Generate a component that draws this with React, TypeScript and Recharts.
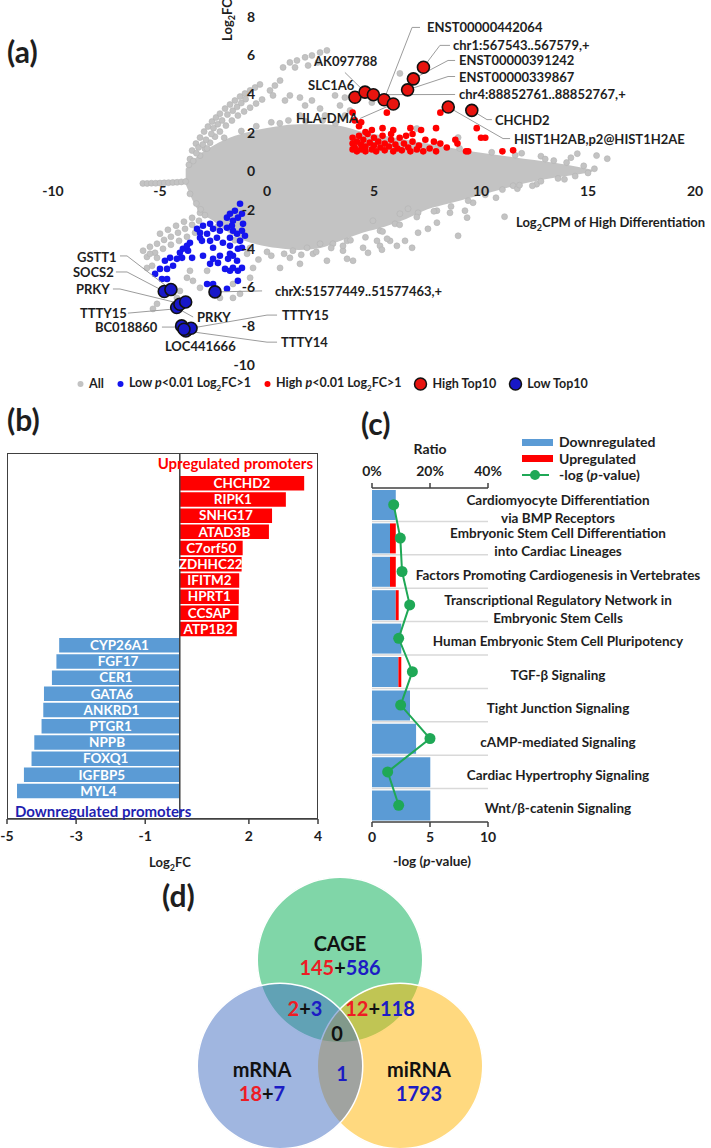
import React from 'react';
import {
  ComposedChart, Area, Scatter, XAxis, YAxis, ReferenceLine,
  BarChart, Bar, Cell, LabelList, Line, PieChart, Pie,
} from 'recharts';

const FONT = 'Lato, "Open Sans", "DejaVu Sans", sans-serif';
const INK = '#1e1e1e';
const RED = '#ff0000';
const BLUE = '#1414ee';
const NAVY = '#1f1fb0';
const GRAY = '#c3c3c3';

// ---------- (a) MA plot ----------
const maTicksX = [-10, -5, 0, 5, 10, 15, 20];
const maTicksY = [-10, -8, -6, -4, -2, 0, 2, 4, 6, 8];

// dense core of the "All" cloud (log2CPM, lower / upper log2FC)
const cloudX = [-3.8, -3.3, -2.5, -1.5, -0.5, 0.5, 1.5, 2.5, 3.5, 4.5, 5.5, 6.5, 7.5, 8.5, 9.5, 10.5, 11.5, 12.5, 13.5, 14.5, 15.2];
const cloudLow = [-0.7, -1.9, -2.6, -3.4, -3.8, -4.0, -4.1, -4.0, -3.6, -3.2, -2.9, -2.5, -2.0, -1.7, -1.4, -1.1, -0.8, -0.55, -0.35, -0.2, -0.05];
const cloudHigh = [0.1, 0.7, 1.3, 1.8, 2.1, 2.3, 2.4, 2.4, 2.3, 2.0, 1.8, 1.6, 1.4, 1.2, 1.0, 0.85, 0.7, 0.55, 0.4, 0.2, 0.05];

// "All" points outside the core
const allPoints = [
  [-3.5, 1.04], [-3.32, 1.4], [-3.13, 1.71], [-2.94, 2.02], [-2.76, 2.28], [-2.57, 2.54], [-2.38, 2.75], [-2.2, 2.95],
  [-1.96, 3.21], [-1.73, 3.42], [-1.5, 3.63], [-1.26, 3.83], [-1.03, 3.99], [-0.79, 4.15], [-0.56, 4.3], [-0.33, 4.46],
  [-3.13, 0.78], [-2.9, 1.14], [-2.66, 1.45], [-2.43, 1.76], [-2.2, 2.02], [-1.92, 2.33], [-1.64, 2.59], [-1.36, 2.85],
  [-1.07, 3.06], [-0.79, 3.26], [-0.51, 3.47], [-0.23, 3.68],
  [-3.65, 0.3], [-3.6, 0.6], [-3.45, 0.5], [-3.3, 0.9], [-3.2, 1.2], [-3.0, 1.35], [-2.85, 1.6], [-2.6, 1.9],
  [-2.5, 2.2], [-2.3, 2.4], [-2.1, 2.6], [-1.85, 2.9], [-1.6, 3.1], [-1.4, 3.3], [-1.2, 3.5], [-1.0, 3.7],
  [0.14, 4.15], [0.37, 4.4], [0.28, 3.89], [0.61, 4.66], [0.75, 5.34], [1.07, 5.6], [1.4, 5.7], [1.78, 5.86],
  [2.1, 5.96], [2.48, 6.11], [2.8, 6.22], [1.31, 5.34], [1.92, 5.44], [2.38, 5.6], [0.84, 3.63], [1.07, 3.89],
  [1.54, 3.78], [1.78, 3.37], [2.1, 3.63], [2.48, 3.21], [3.18, 3.89], [3.41, 3.37], [1.54, 2.85], [2.71, 2.85],
  [3.64, 2.85], [3.88, 3.11], [3.64, 3.78], [4.9, 3.52], [6.21, 5.03], [7.0, 2.18], [8.93, 1.71], [13.4, 0.52],
  [14.2, 0.67], [14.5, 0.88], [15.4, 0.78], [15.9, 0.62], [12.8, 0.75], [11.9, 0.9], [13.9, -0.45], [12.6, -0.7],
  [-5.8, -0.66], [-5.6, -0.66], [-5.4, -0.65], [-5.2, -0.65], [-5.0, -0.64], [-4.8, -0.63], [-4.6, -0.62],
  [-4.4, -0.61], [-4.2, -0.6], [-4.0, -0.58], [-3.8, -0.56],
  [-5.79, -4.14], [-5.47, -3.94], [-5.14, -3.78], [-4.81, -3.58], [-4.49, -3.42], [-4.16, -3.21], [-3.83, -3.01],
  [-3.5, -2.8], [-3.18, -2.59], [-5.61, -4.46], [-5.23, -4.25], [-4.86, -4.04], [-4.49, -3.83], [-4.11, -3.63],
  [-3.74, -3.42], [-3.36, -3.21], [-5.0, -3.26], [-4.63, -3.06], [-4.25, -2.85], [-3.88, -2.64], [-3.5, -2.44],
  [-3.13, -2.18], [-3.3, -1.7], [-3.1, -2.0], [-2.9, -2.3],
  [0.61, -5.03], [1.07, -4.51], [1.54, -4.82], [2.15, -4.3], [2.8, -4.66], [3.08, -3.78], [3.55, -4.14], [4.02, -4.66],
  [3.74, -3.63], [1.87, -3.99], [2.48, -3.78], [1.21, -4.14], [-1.59, -6.58], [-2.2, -6.58], [-3.13, -6.06],
  [-3.46, -5.7], [-3.74, -5.54], [-4.07, -6.22], [-4.21, -6.58], [-5.33, -7.15], [-5.14, -6.89], [-3.6, -5.18],
  [-2.8, -5.18], [-0.93, -4.3], [-0.65, -5.03], [-0.79, -5.54], [-1.26, -6.37], [-1.59, -5.86], [-5.47, -4.3],
  [-5.14, -4.51], [-5.61, -5.03], [-5.37, -4.92], [-0.4, -4.6], [0.2, -4.4],
  [11.1, -2.38], [8.93, -3.37], [9.35, -2.43], [9.63, -1.66], [9.25, -2.07], [8.55, -2.18], [7.94, -2.69], [7.52, -3.01],
  [7.06, -3.21], [6.78, -3.99], [6.45, -3.63], [6.07, -3.89], [5.75, -3.63], [5.28, -3.89], [5.14, -3.63], [4.72, -4.25],
  [4.49, -3.99], [3.74, -4.56], [3.55, -3.89], [5.37, -4.09], [5.61, -3.52], [10.7, -1.4], [11.5, -0.78], [11.7, -0.93],
  [12.4, -0.78], [10.1, -1.04], [7.94, -2.07], [7.06, -2.18], [6.21, -2.23], [6.59, -1.97], [5.98, -2.75], [5.28, -3.11],
  [4.95, -2.59],
  [-0.5, 2.3], [0.2, 2.5], [1.0, 2.6], [1.8, 2.55], [2.6, 2.6], [3.2, 2.45], [0.6, 2.45], [-1.2, 2.05], [-2.0, 1.7],
  [-2.8, 1.15], [0.0, -4.2], [0.8, -4.3], [1.6, -4.35], [2.3, -4.2], [3.0, -4.0], [3.9, -3.6], [4.6, -3.45], [5.4, -3.15],
  [6.2, -2.8], [7.0, -2.4], [7.8, -2.1], [8.6, -1.85], [9.4, -1.55], [10.2, -1.25], [11.0, -0.98], [11.8, -0.75],
  [12.8, -0.55], [13.6, -0.4], [14.4, -0.28], [15.0, -0.12], [-0.8, -4.0], [-1.5, -3.6], [8.0, 1.35], [9.0, 1.15],
  [10.5, 0.95], [11.6, 0.8], [13.0, 0.6], [14.0, 0.42], [14.8, 0.25], [15.3, 0.1], [-2.3, -2.9], [-3.6, -1.2],
];

// High p<0.01 Log2FC>1
const highPoints = [
  [4.0, 1.1], [4.0, 1.4], [4.0, 1.7], [4.1, 1.2], [4.2, 1.0], [4.2, 1.5], [4.3, 1.8], [4.4, 1.1], [4.4, 1.35], [4.5, 1.6],
  [4.6, 1.0], [4.6, 1.25], [4.7, 1.9], [4.8, 1.45], [4.9, 1.1], [5.0, 1.3], [5.0, 1.7], [5.1, 1.0], [5.2, 1.5], [5.3, 1.2],
  [5.4, 1.8], [5.5, 1.05], [5.5, 1.4], [5.7, 1.25], [5.8, 1.6], [5.9, 1.0], [6.0, 1.35], [6.1, 1.15], [6.2, 1.7], [6.3, 1.05],
  [6.4, 1.4], [6.6, 1.2], [6.7, 1.0], [6.8, 1.5], [7.0, 1.1], [7.1, 1.3], [7.3, 1.0], [7.4, 1.6], [7.6, 1.15], [4.3, 2.3],
  [4.1, 2.6], [4.4, 2.5], [4.9, 2.1], [5.4, 2.2], [5.6, 3.0], [5.9, 2.1], [6.7, 2.2], [6.8, 1.9], [7.2, 2.1], [7.9, 2.2],
  [8.1, 3.0], [7.8, 1.5], [8.1, 1.4], [8.8, 1.6], [8.9, 1.4], [9.8, 2.2], [10.0, 1.7], [10.2, 1.7], [9.3, 1.0], [9.4, 1.0],
  [11.0, 1.0], [11.5, 1.05], [4.0, 3.0], [8.4, 1.2], [7.9, 1.0], [6.5, 1.8], [5.8, 1.9], [4.6, 2.0],
];

// Low p<0.01 Log2FC>1
const lowPoints = [
  [-1.26, -1.71], [-1.87, -2.43], [-1.59, -2.59], [-1.36, -2.43], [-1.12, -2.75], [-1.17, -3.11], [-1.59, -3.11],
  [-1.73, -3.47], [-1.4, -3.26], [-1.03, -3.37], [-1.26, -3.63], [-2.2, -3.11], [-2.52, -3.01], [-2.8, -3.26],
  [-3.13, -3.21], [-3.04, -3.63], [-2.66, -3.63], [-2.34, -3.47], [-2.06, -3.73], [-1.73, -3.89], [-1.36, -4.04],
  [-1.17, -3.99], [-1.59, -4.4], [-1.82, -4.56], [-1.4, -4.66], [-1.59, -5.03], [-1.73, -5.18], [-1.36, -5.7],
  [-1.17, -5.03], [-2.2, -4.4], [-2.52, -4.56], [-2.99, -4.4], [-2.66, -4.82], [-2.29, -4.77], [-1.96, -5.08],
  [-3.6, -3.73], [-3.93, -4.04], [-4.07, -4.25], [-3.69, -4.14], [-3.5, -4.51], [-4.21, -4.56], [-4.53, -4.51],
  [-4.77, -4.66], [-4.39, -4.92], [-5.0, -5.08], [-4.67, -5.08], [-5.23, -5.34], [-4.91, -5.6], [-4.67, -5.6],
  [-3.27, -3.01], [-2.99, -2.85], [-2.66, -2.75], [-2.2, -2.75], [-1.87, -2.95], [-1.64, -2.85], [-2.52, -3.99],
  [-1.73, -4.3], [-2.8, -5.86], [-2.52, -5.86], [-1.87, -6.11], [-1.36, -5.18], [-3.13, -3.47], [-3.74, -3.89],
  [-3.97, -4.51], [-1.73, -2.23], [-1.5, -2.07], [-1.17, -2.23],
];

// Top10 up / down (same order as the names)
const highTop10Names = ['SLC1A6', 'AK097788', 'chr4:88852761..88852767,+', 'ENST00000442064', 'HLA-DMA',
  'ENST00000339867', 'ENST00000391242', 'chr1:567543..567579,+', 'HIST1H2AB,p2@HIST1H2AE', 'CHCHD2'];
const highTop10 = [[4.11, 3.8], [4.58, 4.06], [4.97, 3.93], [5.47, 3.67], [5.9, 3.45], [6.57, 4.18], [6.84, 4.75], [7.31, 5.35], [8.47, 3.29], [9.57, 3.12]];
const lowTop10Names = ['SOCS2', 'GSTT1', 'TTTY15', 'PRKY', 'PRKY', 'BC018860', 'TTTY14', 'TTTY15', 'LOC441666', 'chrX:51577449..51577463,+'];
const lowTop10 = [[-4.8, -6.25], [-4.49, -6.15], [-4.22, -7.08], [-4.07, -6.91], [-3.8, -6.79], [-3.99, -8.03], [-3.79, -8.29], [-3.55, -8.15], [-3.88, -8.2], [-2.43, -6.27]];

// ---------- (b) top promoters ----------
const upGenes = ['CHCHD2', 'RIPK1', 'SNHG17', 'ATAD3B', 'C7orf50', 'ZDHHC22', 'IFITM2', 'HPRT1', 'CCSAP', 'ATP1B2'];
const upFC = [3.6, 3.07, 2.67, 2.58, 1.82, 1.79, 1.72, 1.71, 1.7, 1.65];
const downGenes = ['CYP26A1', 'FGF17', 'CER1', 'GATA6', 'ANKRD1', 'PTGR1', 'NPPB', 'FOXQ1', 'IGFBP5', 'MYL4'];
const downFC = [-3.49, -3.57, -3.7, -3.93, -3.95, -4.0, -4.21, -4.29, -4.51, -4.71];
const fcTicks = [-5, -3, -1, 2, 4];

// ---------- (c) pathways ----------
const pathways = [
  'Cardiomyocyte Differentiation\nvia BMP Receptors',
  'Embryonic Stem Cell Differentiation\ninto Cardiac Lineages',
  'Factors Promoting Cardiogenesis in Vertebrates',
  'Transcriptional Regulatory Network in\nEmbryonic Stem Cells',
  'Human Embryonic Stem Cell Pluripotency',
  'TGF-β Signaling',
  'Tight Junction Signaling',
  'cAMP-mediated Signaling',
  'Cardiac Hypertrophy Signaling',
  'Wnt/β-catenin Signaling',
];
const downRatio = [8.2, 6.2, 6.2, 8.2, 10.1, 9.1, 13.1, 15.2, 20.1, 20.1];
const upRatio = [0, 2.0, 2.0, 1.0, 0, 1.0, 0, 0, 0, 0];
const negLogP = [1.87, 2.44, 2.59, 3.25, 2.3, 3.48, 2.47, 5.0, 1.35, 2.3];
const ratioTicks = [0, 20, 40];
const pTicks = [0, 5, 10];

// ---------- (d) Venn ----------
const vennSets = ['CAGE', 'mRNA', 'miRNA'];
const vennRegions = ['CAGE', 'CAGE∩mRNA', 'CAGE∩miRNA', 'all', 'mRNA', 'mRNA∩miRNA', 'miRNA'];
const vennUp = [145, 2, 12, 0, 18, 0, 0];
const vennDown = [586, 3, 118, 0, 7, 1, 1793];

// ---------- layout ----------
const A_HIGH_SPOTS = [
  [1.92, 4.41], [2.2, 5.65], [8.97, 3.94], [7.48, 7.41], [1.36, 2.7],
  [8.97, 4.87], [8.97, 5.7], [8.69, 6.48], [11.54, 1.66], [10.65, 2.64],
];
const A_LOW_SPOTS = [
  [-9.07, -5.24], [-8.88, -4.46], [-8.74, -7.37], [-8.93, -6.12], [-3.27, -7.57],
  [-8.04, -8.09], [0.65, -8.87], [0.7, -7.47], [-4.77, -9.08], [0.37, -6.22],
];
const A_LEADERS = [
  [[7.15, 7.41], [6.78, 7.41], [5.47, 3.68]],
  [[8.55, 6.48], [8.08, 6.48], [7.31, 5.35]],
  [[8.79, 5.7], [8.46, 5.7], [6.84, 4.75]],
  [[8.79, 4.87], [8.46, 4.87], [6.57, 4.18]],
  [[8.79, 3.94], [4.97, 3.93]],
  [[10.51, 2.64], [10.28, 2.64], [9.57, 3.12]],
  [[11.36, 1.66], [11.03, 1.66], [8.47, 3.29]],
  [[3.64, 5.08], [4.58, 4.06]],
  [[4.35, 2.7], [5.9, 3.45]],
  [[-6.87, -4.41], [-6.54, -4.41], [-4.49, -6.15]],
  [[-7.06, -5.24], [-6.54, -5.24], [-4.8, -6.25]],
  [[-7.2, -6.12], [-6.87, -6.12], [-3.97, -6.9]],
  [[-6.5, -7.37], [-4.3, -7.15]],
  [[-3.45, -7.57], [-3.97, -7.25]],
  [[-4.91, -8.09], [-3.99, -8.09]],
  [[0.47, -7.47], [0, -7.47], [-3.55, -8.15]],
  [[0.47, -8.87], [0, -8.87], [-3.79, -8.29]],
  [[-0.23, -6.22], [-2.3, -6.27]],
];
const A_MARGIN = { top: 16, right: 16, bottom: 36, left: 53 };

const toXY = (arr: number[][]) => arr.map(([x, y]) => ({ x, y }));

const svgText = { fontFamily: FONT, fontWeight: 700 } as const;

const dotShape = (r: number, fill: string, stroke = 'none', sw = 0) => (p: any) =>
  <circle cx={p.cx} cy={p.cy} r={r} fill={fill} stroke={stroke} strokeWidth={sw} />;

const noShape = () => <g />;

function PanelA() {
  const cloud = cloudX.map((x, i) => ({ x, range: [cloudLow[i], cloudHigh[i]] }));
  const xTicks = maTicksX.map((v) => ({ x: v, y: 0, t: String(v) }));
  const yTicks = maTicksY.map((v) => ({ x: 0, y: v, t: String(v) }));
  const labels = [
    ...A_HIGH_SPOTS.map(([x, y], i) => ({ x, y, t: highTop10Names[i] })),
    ...A_LOW_SPOTS.map(([x, y], i) => ({ x, y, t: lowTop10Names[i] })),
  ];
  return (
    <div style={{ position: 'absolute', left: 0, top: 0, width: 711, height: 400 }}>
      {/* axes crossing at the origin, drawn underneath the points */}
      <div style={{ position: 'absolute', left: 0, top: 0 }}>
        <ComposedChart width={711} height={400} margin={A_MARGIN}>
          <XAxis type="number" dataKey="x" domain={[-10, 20]} hide />
          <YAxis type="number" domain={[-10, 8]} hide />
          <ReferenceLine y={0} stroke="#5a5a5a" strokeWidth={2} />
          <ReferenceLine x={0} stroke="#5a5a5a" strokeWidth={2} />
        </ComposedChart>
      </div>
      <div style={{ position: 'absolute', left: 0, top: 0 }}>
        <ComposedChart width={711} height={400} data={cloud} margin={A_MARGIN}>
          <XAxis type="number" dataKey="x" domain={[-10, 20]} hide />
          <YAxis type="number" domain={[-10, 8]} hide />
          <Area dataKey="range" type="monotone" stroke="none" fill={GRAY} fillOpacity={1} dot={false} activeDot={false} isAnimationActive={false} />
          <Scatter data={toXY(allPoints)} dataKey="y" shape={dotShape(3, GRAY, '#b4b4b4', 0.6)} isAnimationActive={false} />
          <Scatter data={toXY(highPoints)} dataKey="y" shape={dotShape(3.3, RED)} isAnimationActive={false} />
          <Scatter data={toXY(lowPoints)} dataKey="y" shape={dotShape(3.3, BLUE)} isAnimationActive={false} />
          {A_LEADERS.map((pts, i) => (
            <Scatter key={i} data={toXY(pts)} dataKey="y" line={{ stroke: '#9c9c9c', strokeWidth: 1 }} shape={noShape} isAnimationActive={false} />
          ))}
          <Scatter data={toXY(highTop10)} dataKey="y" shape={dotShape(6, '#e8140f', '#111', 1.6)} isAnimationActive={false} />
          <Scatter data={toXY(lowTop10)} dataKey="y" shape={dotShape(6, '#1818c8', '#111', 1.6)} isAnimationActive={false} />
          <Scatter data={xTicks} dataKey="y" isAnimationActive={false}
            shape={(p: any) => <text x={p.cx} y={p.cy + 20} textAnchor="middle" dominantBaseline="central" fontSize={14} fill={INK} style={svgText}>{p.payload.t}</text>} />
          <Scatter data={yTicks} dataKey="y" isAnimationActive={false}
            shape={(p: any) => <text x={p.cx - 12} y={p.cy} textAnchor="end" dominantBaseline="central" fontSize={14} fill={INK} style={svgText}>{p.payload.t}</text>} />
          <Scatter data={labels} dataKey="y" isAnimationActive={false}
            shape={(p: any) => <text x={p.cx} y={p.cy} textAnchor="start" dominantBaseline="central" fontSize={13} fill={INK} style={svgText}>{p.payload.t}</text>} />
        </ComposedChart>
      </div>
      <div style={{ position: 'absolute', left: 228, top: 20, transform: 'translate(-50%,-50%) rotate(-90deg)', fontSize: 13, whiteSpace: 'nowrap' }}>
        Log<sub style={{ fontSize: 9 }}>2</sub>FC
      </div>
      <div style={{ position: 'absolute', left: 516, top: 214, fontSize: 13, whiteSpace: 'nowrap' }}>
        Log<sub style={{ fontSize: 9 }}>2</sub>CPM of High Differentiation
      </div>
      <div style={{ position: 'absolute', left: 76, top: 375, display: 'flex', alignItems: 'center', gap: 12, fontSize: 12.5, whiteSpace: 'nowrap' }}>
        <LegendDot r={3} fill={GRAY} label={<>All</>} />
        <LegendDot r={3} fill={BLUE} label={<>Low <i>p</i>&lt;0.01 Log<sub style={{ fontSize: 8 }}>2</sub>FC&gt;1</>} />
        <LegendDot r={3} fill={RED} label={<>High <i>p</i>&lt;0.01 Log<sub style={{ fontSize: 8 }}>2</sub>FC&gt;1</>} />
        <LegendDot r={6} fill="#e8140f" stroke="#111" label={<>High Top10</>} />
        <LegendDot r={6} fill="#1818c8" stroke="#111" label={<>Low Top10</>} />
      </div>
    </div>
  );
}

function LegendDot({ r, fill, stroke, label }: any) {
  return (
    <span style={{ display: 'inline-flex', alignItems: 'center', gap: 4 }}>
      <svg width={r * 2 + 3} height={14}>
        <circle cx={r + 1.5} cy={7} r={r} fill={fill} stroke={stroke || 'none'} strokeWidth={stroke ? 1.5 : 0} />
      </svg>
      <span>{label}</span>
    </span>
  );
}

function PanelB() {
  const rows = [
    ...upGenes.map((g, i) => ({ gene: g, fc: upFC[i] })),
    ...downGenes.map((g, i) => ({ gene: g, fc: downFC[i] })),
  ];
  return (
    <div style={{ position: 'absolute', left: 7, top: 453, width: 311, height: 430 }}>
      <div style={{ position: 'absolute', left: 0, top: 0, width: 311, height: 366, border: '1.5px solid #404040', boxSizing: 'border-box' }} />
      <div style={{ position: 'absolute', left: 0, top: 0 }}>
        <BarChart width={311} height={396} data={rows} layout="vertical" margin={{ top: 0, right: 0, bottom: 0, left: 0 }}>
          <XAxis type="number" domain={[-5, 4]} ticks={fcTicks} interval={0} stroke="#404040" strokeWidth={1.5} height={30}
            tickSize={5} tickMargin={7} tick={{ fill: INK, fontSize: 14, fontFamily: FONT, fontWeight: 700 }} />
          <YAxis type="category" dataKey="gene" hide padding={{ top: 22, bottom: 20 }} />
          <ReferenceLine x={0} stroke="#404040" strokeWidth={1.5} />
          <Bar dataKey="fc" barSize={14.5} isAnimationActive={false}>
            {rows.map((r) => <Cell key={r.gene + r.fc} fill={r.fc > 0 ? RED : '#5b9bd5'} />)}
            <LabelList dataKey="gene" position="center" fill="#fff" fontSize={13.5} fontFamily={FONT} fontWeight={700} />
          </Bar>
        </BarChart>
      </div>
      <div style={{ position: 'absolute', right: 5, top: 1, textAlign: 'right', color: RED, fontSize: 15, whiteSpace: 'nowrap' }}>
        Upregulated promoters
      </div>
      <div style={{ position: 'absolute', left: 8, top: 349, color: NAVY, fontSize: 15, whiteSpace: 'nowrap' }}>
        Downregulated promoters
      </div>
      <div style={{ position: 'absolute', left: 163, top: 401, transform: 'translateX(-50%)', fontSize: 13, whiteSpace: 'nowrap' }}>
        Log<sub style={{ fontSize: 9 }}>2</sub>FC
      </div>
    </div>
  );
}

function PathwayTick({ x, y, payload }: any) {
  const lines = String(payload.value).split('\n');
  const start = lines.length > 1 ? -5 : 3;
  return (
    <text textAnchor="middle" fontSize={13.5} fill={INK} style={svgText}>
      {lines.map((l, i) => (
        <tspan key={i} x={x + 70} y={y + start + i * 18} dominantBaseline="central">{l}</tspan>
      ))}
    </text>
  );
}

function PanelC() {
  const rows = pathways.map((p, i) => ({ pathway: p, down: downRatio[i], up: upRatio[i], p: negLogP[i] }));
  const tickStyle = { fill: INK, fontSize: 14, fontFamily: FONT, fontWeight: 700 };
  return (
    <div style={{ position: 'absolute', left: 372, top: 440, width: 339, height: 440 }}>
      <ComposedChart width={339} height={412} data={rows} layout="vertical" margin={{ top: 0, right: 0, bottom: 0, left: 0 }}>
        <XAxis xAxisId="ratio" type="number" orientation="top" domain={[0, 40]} ticks={ratioTicks} interval={0} height={48}
          tickFormatter={(v) => `${v}%`} stroke="#404040" strokeWidth={1.5} tickSize={5} tickMargin={7} tick={tickStyle} />
        <XAxis xAxisId="p" type="number" orientation="bottom" domain={[0, 10]} ticks={pTicks} interval={0} height={30}
          stroke="#404040" strokeWidth={1.5} tickSize={5} tickMargin={5} tick={tickStyle} />
        <YAxis type="category" dataKey="pathway" orientation="right" width={223} axisLine={false} tickLine={false}
          tickSize={0} tickMargin={0} tick={<PathwayTick />} interval={0} />
        {pathways.slice(1).map((p) => (
          <ReferenceLine key={p} xAxisId="ratio" y={p} position="start" stroke="#d9d9d9" strokeWidth={1.5} />
        ))}
        <Bar xAxisId="ratio" dataKey="down" stackId="r" fill="#5b9bd5" barSize={30} isAnimationActive={false} />
        <Bar xAxisId="ratio" dataKey="up" stackId="r" fill={RED} barSize={30} isAnimationActive={false} />
        <Line xAxisId="p" dataKey="p" type="linear" stroke="#1fa856" strokeWidth={2}
          dot={{ r: 5.5, fill: '#1fa856', stroke: '#1fa856', strokeWidth: 0 }} activeDot={false} isAnimationActive={false} />
      </ComposedChart>
      <div style={{ position: 'absolute', left: 58, top: 0, transform: 'translateX(-50%)', fontSize: 14 }}>Ratio</div>
      <div style={{ position: 'absolute', left: 150, top: -6, fontSize: 14, lineHeight: '16.5px', whiteSpace: 'nowrap' }}>
        <div style={{ display: 'flex', alignItems: 'center', gap: 6 }}>
          <span style={{ display: 'inline-block', width: 31, height: 7, background: '#5b9bd5' }} />Downregulated
        </div>
        <div style={{ display: 'flex', alignItems: 'center', gap: 6 }}>
          <span style={{ display: 'inline-block', width: 31, height: 7, background: RED }} />Upregulated
        </div>
        <div style={{ display: 'flex', alignItems: 'center', gap: 8 }}>
          <svg width={29} height={12}>
            <line x1={0} y1={6} x2={27} y2={6} stroke="#1fa856" strokeWidth={2} />
            <circle cx={13} cy={6} r={5} fill="#1fa856" />
          </svg>
          <span>-log (<i>p</i>-value)</span>
        </div>
      </div>
      <div style={{ position: 'absolute', left: 60, top: 413, transform: 'translateX(-50%)', fontSize: 13.5, whiteSpace: 'nowrap' }}>
        -log (<i>p</i>-value)
      </div>
    </div>
  );
}

const VENN_COLORS: Record<string, string> = { CAGE: '#01ad51', mRNA: '#416dc1', miRNA: '#ffb300' };
const VENN_CENTERS: Record<string, [number, number]> = { CAGE: [340, 100], mRNA: [280, 206], miRNA: [400, 206] };
const VENN_DRAW_ORDER = ['CAGE', 'miRNA', 'mRNA'];
const VENN_TEXT_POS: Record<string, [number, number]> = {
  CAGE: [340, 107], 'CAGE∩mRNA': [305, 148], 'CAGE∩miRNA': [380, 148], all: [337, 173],
  mRNA: [262, 233], 'mRNA∩miRNA': [342, 213], miRNA: [419, 233],
};
const VENN_TITLE_POS: Record<string, [number, number]> = { CAGE: [340, 83], mRNA: [262, 209], miRNA: [419, 209] };

function VennCount({ up, down }: { up: number; down: number }) {
  if (up > 0 && down > 0) return <><span style={{ color: '#ee1c25' }}>{up}</span>+<span style={{ color: '#1c1cc4' }}>{down}</span></>;
  if (down > 0) return <span style={{ color: '#1c1cc4' }}>{down}</span>;
  if (up > 0) return <span style={{ color: '#ee1c25' }}>{up}</span>;
  return <span>0</span>;
}

function PanelD() {
  const txt = { position: 'absolute', transform: 'translate(-50%,-50%)', fontSize: 20, lineHeight: '20px', color: '#111', whiteSpace: 'nowrap' } as const;
  return (
    <div style={{ position: 'absolute', left: 0, top: 860, width: 711, height: 288 }}>
      <PieChart width={711} height={288} margin={{ top: 0, right: 0, bottom: 0, left: 0 }}>
        {VENN_DRAW_ORDER.flatMap((s) => [
          <Pie key={s} data={[{ name: s, value: 1 }]} dataKey="value" cx={VENN_CENTERS[s][0]} cy={VENN_CENTERS[s][1]}
            outerRadius={83} startAngle={90} endAngle={-270} stroke="none" isAnimationActive={false}>
            <Cell fill={VENN_COLORS[s]} fillOpacity={0.5} />
          </Pie>,
          <Pie key={s + '-ring'} data={[{ name: s, value: 1 }]} dataKey="value" cx={VENN_CENTERS[s][0]} cy={VENN_CENTERS[s][1]}
            innerRadius={82} outerRadius={83.5} startAngle={90} endAngle={-270} stroke="none" isAnimationActive={false}>
            <Cell fill="#ffffff" />
          </Pie>,
        ])}
      </PieChart>
      {vennSets.map((s) => (
        <div key={s} style={{ ...txt, left: VENN_TITLE_POS[s][0], top: VENN_TITLE_POS[s][1] }}>{s}</div>
      ))}
      {vennRegions.map((r, i) => (
        <div key={r} style={{ ...txt, left: VENN_TEXT_POS[r][0], top: VENN_TEXT_POS[r][1] }}>
          <VennCount up={vennUp[i]} down={vennDown[i]} />
        </div>
      ))}
    </div>
  );
}

export default function App() {
  const panel = { position: 'absolute', fontSize: 30, lineHeight: '30px' } as const;
  return (
    <div style={{ position: 'absolute', left: 0, top: 0, width: 711, height: 1148, background: '#fff', overflow: 'hidden', fontFamily: FONT, fontWeight: 700, color: INK }}>
      <style>{'.recharts-surface{overflow:visible}'}</style>
      <PanelA />
      <PanelB />
      <PanelC />
      <PanelD />
      <div style={{ ...panel, left: 7, top: 36 }}>(a)</div>
      <div style={{ ...panel, left: 7, top: 404 }}>(b)</div>
      <div style={{ ...panel, left: 361, top: 408 }}>(c)</div>
      <div style={{ ...panel, left: 162, top: 880 }}>(d)</div>
    </div>
  );
}
